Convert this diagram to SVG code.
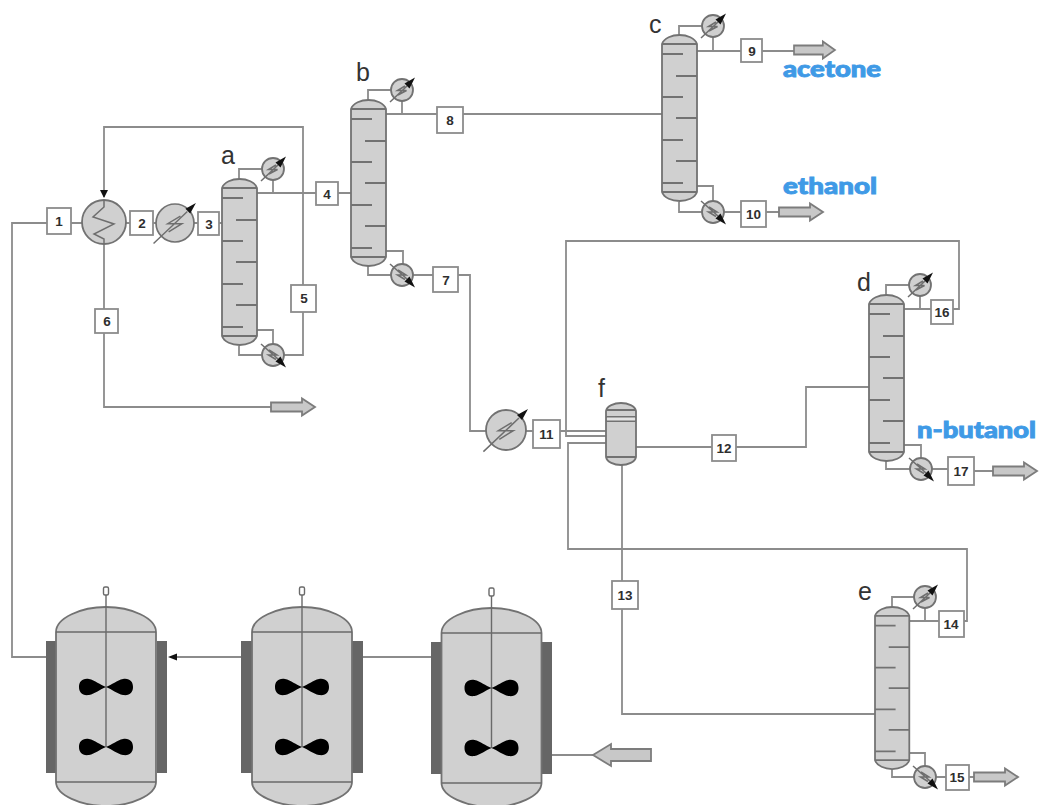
<svg xmlns="http://www.w3.org/2000/svg" xmlns:xlink="http://www.w3.org/1999/xlink" width="1040" height="805" viewBox="0 0 1040 805">
<style>
.pipe{fill:none;stroke:#8c8c8c;stroke-width:1.8}
.vessel{fill:#d0d0d0;stroke:#727272;stroke-width:1.8}
.inner{fill:none;stroke:#727272;stroke-width:1.8}
.thin{fill:none;stroke:#6a6a6a;stroke-width:1.4}
.bolt{fill:none;stroke:#6e6e6e;stroke-width:1.5}
.jacket{fill:#666;stroke:none}
.box{fill:#fff;stroke:#8c8c8c;stroke-width:1.8}
.num{font-family:"Liberation Sans",Arial,sans-serif;font-weight:700;font-size:13.5px;fill:#2e2e2e;text-anchor:middle}
.tag{font-family:"Liberation Sans",Arial,sans-serif;font-size:25px;fill:#333}
.prod{font-family:Lato,"Open Sans",sans-serif;font-weight:900;font-size:22px;fill:#3f9ae6;stroke:#3f9ae6;stroke-width:.9}
.arrowbody{fill:#c8c8c8;stroke:#7c7c7c;stroke-width:1.8}
</style>
<defs>
<g id="column">
<path class="vessel" d="M0,9 C2,3 10,0 17.5,0 C25,0 33,3 35,9 V157 C33,163 25,166 17.5,166 C10,166 2,163 0,157 Z"/>
<path class="inner" d="M0,9H35M0,157H35M0,19H21M14,41H35M0,62H21M14,83H35M0,105H21M14,126H35M0,148H21"/>
</g>
<g id="cond">
<circle class="vessel" r="11"/>
<path class="bolt" d="M3,-4 L-4.5,0.5 H4.5 L-4,5 M-12,12 L5,-4"/>
<polygon points="2.500,-6.500 7.500,-1.500 13,-12.500" fill="#111"/>
</g>
<g id="reb">
<circle class="vessel" r="11"/>
<path class="bolt" d="M-4,-5 L4,0 H-4.500 L3,4.500 M-12,-11 L5,4"/>
<polygon points="2.500,6.500 7.500,1.500 13,12.500" fill="#111"/>
</g>
<g id="heater">
<circle class="vessel" r="20"/>
<path class="bolt" d="M5.700,-7.300 L-7.700,0.700 H7.300 L-6.700,9.300 M-22.600,21.600 L13,-12"/>
<polygon points="11,-15 16,-10 22,-21" fill="#111"/>
</g>
<path id="blade" fill="#000" d="M0,0 C-6,-2 -11,-7 -17,-8 C-24,-9 -27,-5 -27,0 C-27,5 -24,9 -17,8 C-11,7 -6,2 0,0 C6,-2 11,-7 17,-8 C24,-9 27,-5 27,0 C27,5 24,9 17,8 C11,7 6,2 0,0 Z"/>
<g id="reactor">
<path class="vessel" d="M-50,632 C-50,618 -25,607 0,607 C25,607 50,618 50,632 V782 C50,795 25,806 0,806 C-25,806 -50,795 -50,782 Z"/>
<path class="thin" d="M-50,632H50M-50,782H50M0,595V747"/>
<rect class="thin" x="-2.500" y="587" width="5" height="8" rx="1.500" fill="#e8e8e8"/>
<use href="#blade" x="0" y="687"/>
<use href="#blade" x="0" y="747"/>
</g>
<polygon id="out" class="arrowbody" points="0,-4.500 31,-4.500 31,-8.500 44,0 31,8.500 31,4.500 0,4.500"/>
</defs>
<rect width="1040" height="805" fill="#fff"/>

<g id="connectors">
<path class="pipe" d="M12,658V223H47M71,223H82M126,223H130M153,223H156M194,223H198M219,223H222"/>
<path class="pipe" d="M104,197V127H303V355H284"/>
<path class="pipe" d="M104,244V407H271"/>
<path class="pipe" d="M239,179V169H262M273,180V193M257,193H316M338,193H351M257,330H273V344M239,346V355H262"/>
<path class="pipe" d="M368,100V90H391M402,101V114M386,114H437M463,114H662M386,251H403V264M368,266V275H391M413,275H433M458,275H470V431H486"/>
<path class="pipe" d="M679,35V26H702M713,37V51M697,51H741M762,51H794M697,186H713V201M679,202V212H702M724,212H741M766,212H779"/>
<path class="pipe" d="M526,431H533M560,431H606M606,436H566V241H959V309H953M606,443H568V549H967V621H964"/>
<path class="pipe" d="M636,447H712M736,447H806V387H869M622,465V581M622,609V714H875"/>
<path class="pipe" d="M886,295V285H909M920,296V309M904,309H931M904,445H921V458M886,461V469H910M932,469H948M974,471H993"/>
<path class="pipe" d="M892,607V597H914M925,608V621M909,621H939M909,753H925V766M892,769V777H914M936,777H946M969,777H974"/>
<path class="pipe" d="M46,657H12M176,657H241M363,657H431M552,755H593"/>
<polygon points="104,198 100,190 108,190" fill="#111"/>
<polygon points="168,657 177,653.500 177,660.500" fill="#111"/>
</g>

<g id="node-1"><rect class="box" x="47" y="208" width="24" height="26"/><text class="num" x="59" y="226">1</text></g>
<g id="exchanger">
<circle class="vessel" cx="104" cy="222" r="22"/>
<path class="bolt" stroke-width="1.8" d="M104,200V207L93,217L114,224L94,234L104,239V244"/>
</g>
<g id="node-2"><rect class="box" x="130" y="211" width="23" height="24"/><text class="num" x="142" y="228">2</text></g>
<g id="heater-1"><use href="#heater" transform="translate(175,223) scale(.95)"/></g>
<g id="node-3"><rect class="box" x="198" y="212" width="21" height="23"/><text class="num" x="209" y="228.500">3</text></g>
<g id="column-a"><use href="#column" x="222" y="179"/><use href="#cond" x="273" y="169"/><use href="#reb" x="273" y="355"/><text class="tag" x="221" y="164">a</text></g>
<g id="node-4"><rect class="box" x="316" y="182" width="22" height="23"/><text class="num" x="327" y="198.500">4</text></g>
<g id="node-5"><rect class="box" x="291" y="285" width="25" height="27"/><text class="num" x="304" y="303">5</text></g>
<g id="node-6"><rect class="box" x="95" y="309" width="23" height="24"/><text class="num" x="107" y="325.500">6</text></g>
<g id="outlet-6"><use href="#out" x="271" y="407"/></g>

<g id="column-b"><use href="#column" x="351" y="100"/><use href="#cond" x="402" y="90"/><use href="#reb" x="402" y="275"/><text class="tag" x="356" y="81">b</text></g>
<g id="node-7"><rect class="box" x="433" y="267" width="25" height="25"/><text class="num" x="446" y="284.500">7</text></g>
<g id="node-8"><rect class="box" x="437" y="107" width="26" height="26"/><text class="num" x="450" y="124.500">8</text></g>

<g id="column-c"><use href="#column" x="662" y="35"/><use href="#cond" x="713" y="26"/><use href="#reb" x="713" y="212"/><text class="tag" x="649" y="33">c</text></g>
<g id="node-9"><rect class="box" x="741" y="39" width="21" height="23"/><text class="num" x="752" y="55.500">9</text></g>
<g id="outlet-9"><use href="#out" transform="translate(794,50) scale(.93,1)"/></g>
<g id="node-10"><rect class="box" x="741" y="201" width="25" height="26"/><text class="num" x="753.500" y="218.500">10</text></g>
<g id="outlet-10"><use href="#out" x="779" y="212"/></g>
<text class="prod" x="783" y="77" textLength="98" lengthAdjust="spacingAndGlyphs">acetone</text>
<text class="prod" x="783" y="194" textLength="94" lengthAdjust="spacingAndGlyphs">ethanol</text>

<g id="heater-2"><use href="#heater" x="506" y="430"/></g>
<g id="node-11"><rect class="box" x="533" y="420" width="27" height="28"/><text class="num" x="546.500" y="438.500">11</text></g>
<g id="vessel-f">
<path class="vessel" d="M606,411 C607,406 614,403 621,403 C628,403 635,406 636,411 V457 C635,462 628,465 621,465 C614,465 607,462 606,457 Z"/>
<path class="inner" d="M606,410H636M606,417H636M606,421H636M606,457H636"/>
<rect x="607" y="417.500" width="28" height="3" fill="#e4e4e4"/>
<text class="tag" x="598" y="397">f</text>
</g>
<g id="node-12"><rect class="box" x="712" y="435" width="24" height="26"/><text class="num" x="724" y="452.500">12</text></g>
<g id="node-13"><rect class="box" x="612" y="581" width="26" height="28"/><text class="num" x="625" y="599.500">13</text></g>

<g id="column-d"><use href="#column" x="869" y="295"/><use href="#cond" x="920" y="285"/><use href="#reb" x="921" y="469"/><text class="tag" x="857" y="291">d</text></g>
<g id="node-16"><rect class="box" x="931" y="300" width="22" height="24"/><text class="num" x="942" y="317">16</text></g>
<g id="node-17"><rect class="box" x="948" y="457" width="26" height="28"/><text class="num" x="961" y="475.500">17</text></g>
<g id="outlet-17"><use href="#out" x="993" y="471"/></g>
<text class="prod" x="917" y="438" textLength="119" lengthAdjust="spacingAndGlyphs">n-butanol</text>

<g id="column-e"><use href="#column" transform="translate(875,607) scale(.98,.976)"/><use href="#cond" x="925" y="597"/><use href="#reb" x="925" y="777"/><text class="tag" x="858" y="600">e</text></g>
<g id="node-14"><rect class="box" x="939" y="611" width="25" height="26"/><text class="num" x="951" y="628.500">14</text></g>
<g id="node-15"><rect class="box" x="946" y="765" width="23" height="25"/><text class="num" x="957" y="782">15</text></g>
<g id="outlet-15"><use href="#out" x="974" y="777"/></g>

<g id="reactor-1"><rect class="jacket" x="46" y="641" width="11" height="132"/><rect class="jacket" x="157" y="641" width="10" height="132"/><use href="#reactor" x="106"/></g>
<g id="reactor-2"><rect class="jacket" x="241" y="641" width="11" height="132"/><rect class="jacket" x="352" y="641" width="11" height="132"/><use href="#reactor" x="302"/></g>
<g id="reactor-3"><rect class="jacket" x="431" y="642" width="10" height="132"/><rect class="jacket" x="541" y="642" width="11" height="132"/><use href="#reactor" x="491.500" y="1"/></g>
<g id="inlet"><polygon class="arrowbody" points="651,749 651,761 611,761 611,766 593,755 611,744 611,749"/></g>
</svg>
